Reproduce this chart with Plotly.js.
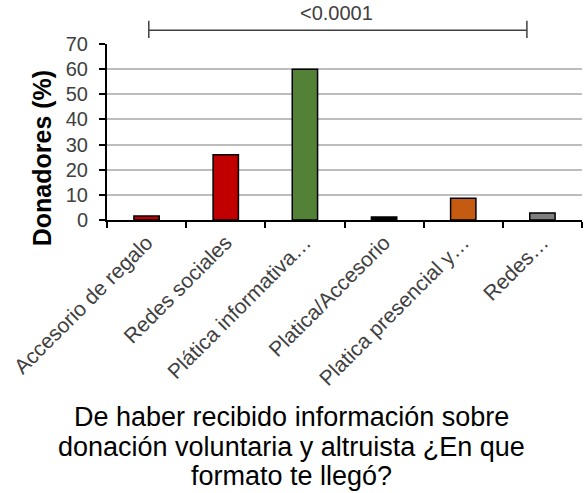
<!DOCTYPE html>
<html>
<head>
<meta charset="utf-8">
<script src="https://cdn.plot.ly/plotly-3.0.1.min.js"></script>
<style>html,body{margin:0;padding:0;background:#fff;}#chart{width:584px;height:493px;}</style>
</head>
<body>
<div id="chart"></div>
<script>
const categories = ["Accesorio de regalo", "Redes sociales", "Plática informativa…", "Platica/Accesorio", "Platica presencial y…", "Redes…"];
const values = [1.6, 26, 60, 1.2, 8.7, 2.8];
const barColors = ["#C00000", "#C00000", "#538135", "#000000", "#C55A11", "#7F7F7F"];
const yTicks = [0, 10, 20, 30, 40, 50, 60, 70];
const pLabel = "<0.0001";
const xTitleLines = ["De haber recibido información sobre", "donación voluntaria y altruista ¿En que", "formato te llegó?"];
const yTitle = "Donadores (%)";

const trace = {
  type: "bar",
  x: categories,
  y: values,
  marker: { color: barColors, line: { color: "#000000", width: 1.5 } },
  hoverinfo: "none"
};

const FONT = "Liberation Sans, Arial, sans-serif";
const titleYs = [-1.119, -1.290, -1.455];

const layout = {
  width: 584, height: 493,
  margin: { l: 107, r: 2, t: 44, b: 273 },
  paper_bgcolor: "#ffffff", plot_bgcolor: "#ffffff",
  showlegend: false,
  bargap: 0.68,
  font: { family: FONT, color: "#404040" },
  xaxis: {
    type: "category",
    tickangle: -45,
    tickfont: { size: 21, color: "#404040" },
    showline: true, linecolor: "#000000", linewidth: 2,
    ticks: "outside", tickson: "boundaries", ticklen: 6, tickcolor: "#000000", tickwidth: 2,
    showgrid: false, zeroline: false, fixedrange: true
  },
  yaxis: {
    range: [0, 70],
    tickvals: yTicks,
    tickfont: { size: 20, color: "#404040" },
    ticklabelstandoff: 7,
    showline: true, linecolor: "#000000", linewidth: 2,
    ticks: "outside", ticklen: 6, tickcolor: "#000000", tickwidth: 2,
    showgrid: true, gridcolor: "#BDBDBD", gridwidth: 2,
    zeroline: false, fixedrange: true
  },
  shapes: [
    { type: "line", xref: "paper", yref: "paper", x0: 0.088, x1: 0.884, y0: 1.078, y1: 1.078, line: { color: "#404040", width: 1.5 } },
    { type: "line", xref: "paper", yref: "paper", x0: 0.088, x1: 0.088, y0: 1.034, y1: 1.132, line: { color: "#404040", width: 1.5 } },
    { type: "line", xref: "paper", yref: "paper", x0: 0.884, x1: 0.884, y0: 1.034, y1: 1.132, line: { color: "#404040", width: 1.5 } }
  ],
  annotations: [
    { text: pLabel, xref: "paper", yref: "paper", x: 0.484, y: 1.10, xanchor: "center", yanchor: "bottom", showarrow: false, font: { size: 20, color: "#404040" } },
    { text: "<b>" + yTitle + "</b>", xref: "paper", yref: "paper", x: -0.135, y: 0.35, xanchor: "center", yanchor: "middle", textangle: -90, showarrow: false, font: { size: 25, color: "#000000" } }
  ].concat(xTitleLines.map((t, i) => ({
    text: t, xref: "paper", yref: "paper", x: 0.389, y: titleYs[i], xanchor: "center", yanchor: "middle",
    showarrow: false, font: { size: 27, color: "#000000" }
  })))
};

Plotly.newPlot("chart", [trace], layout, { staticPlot: true, displayModeBar: false });
</script>
</body>
</html>
